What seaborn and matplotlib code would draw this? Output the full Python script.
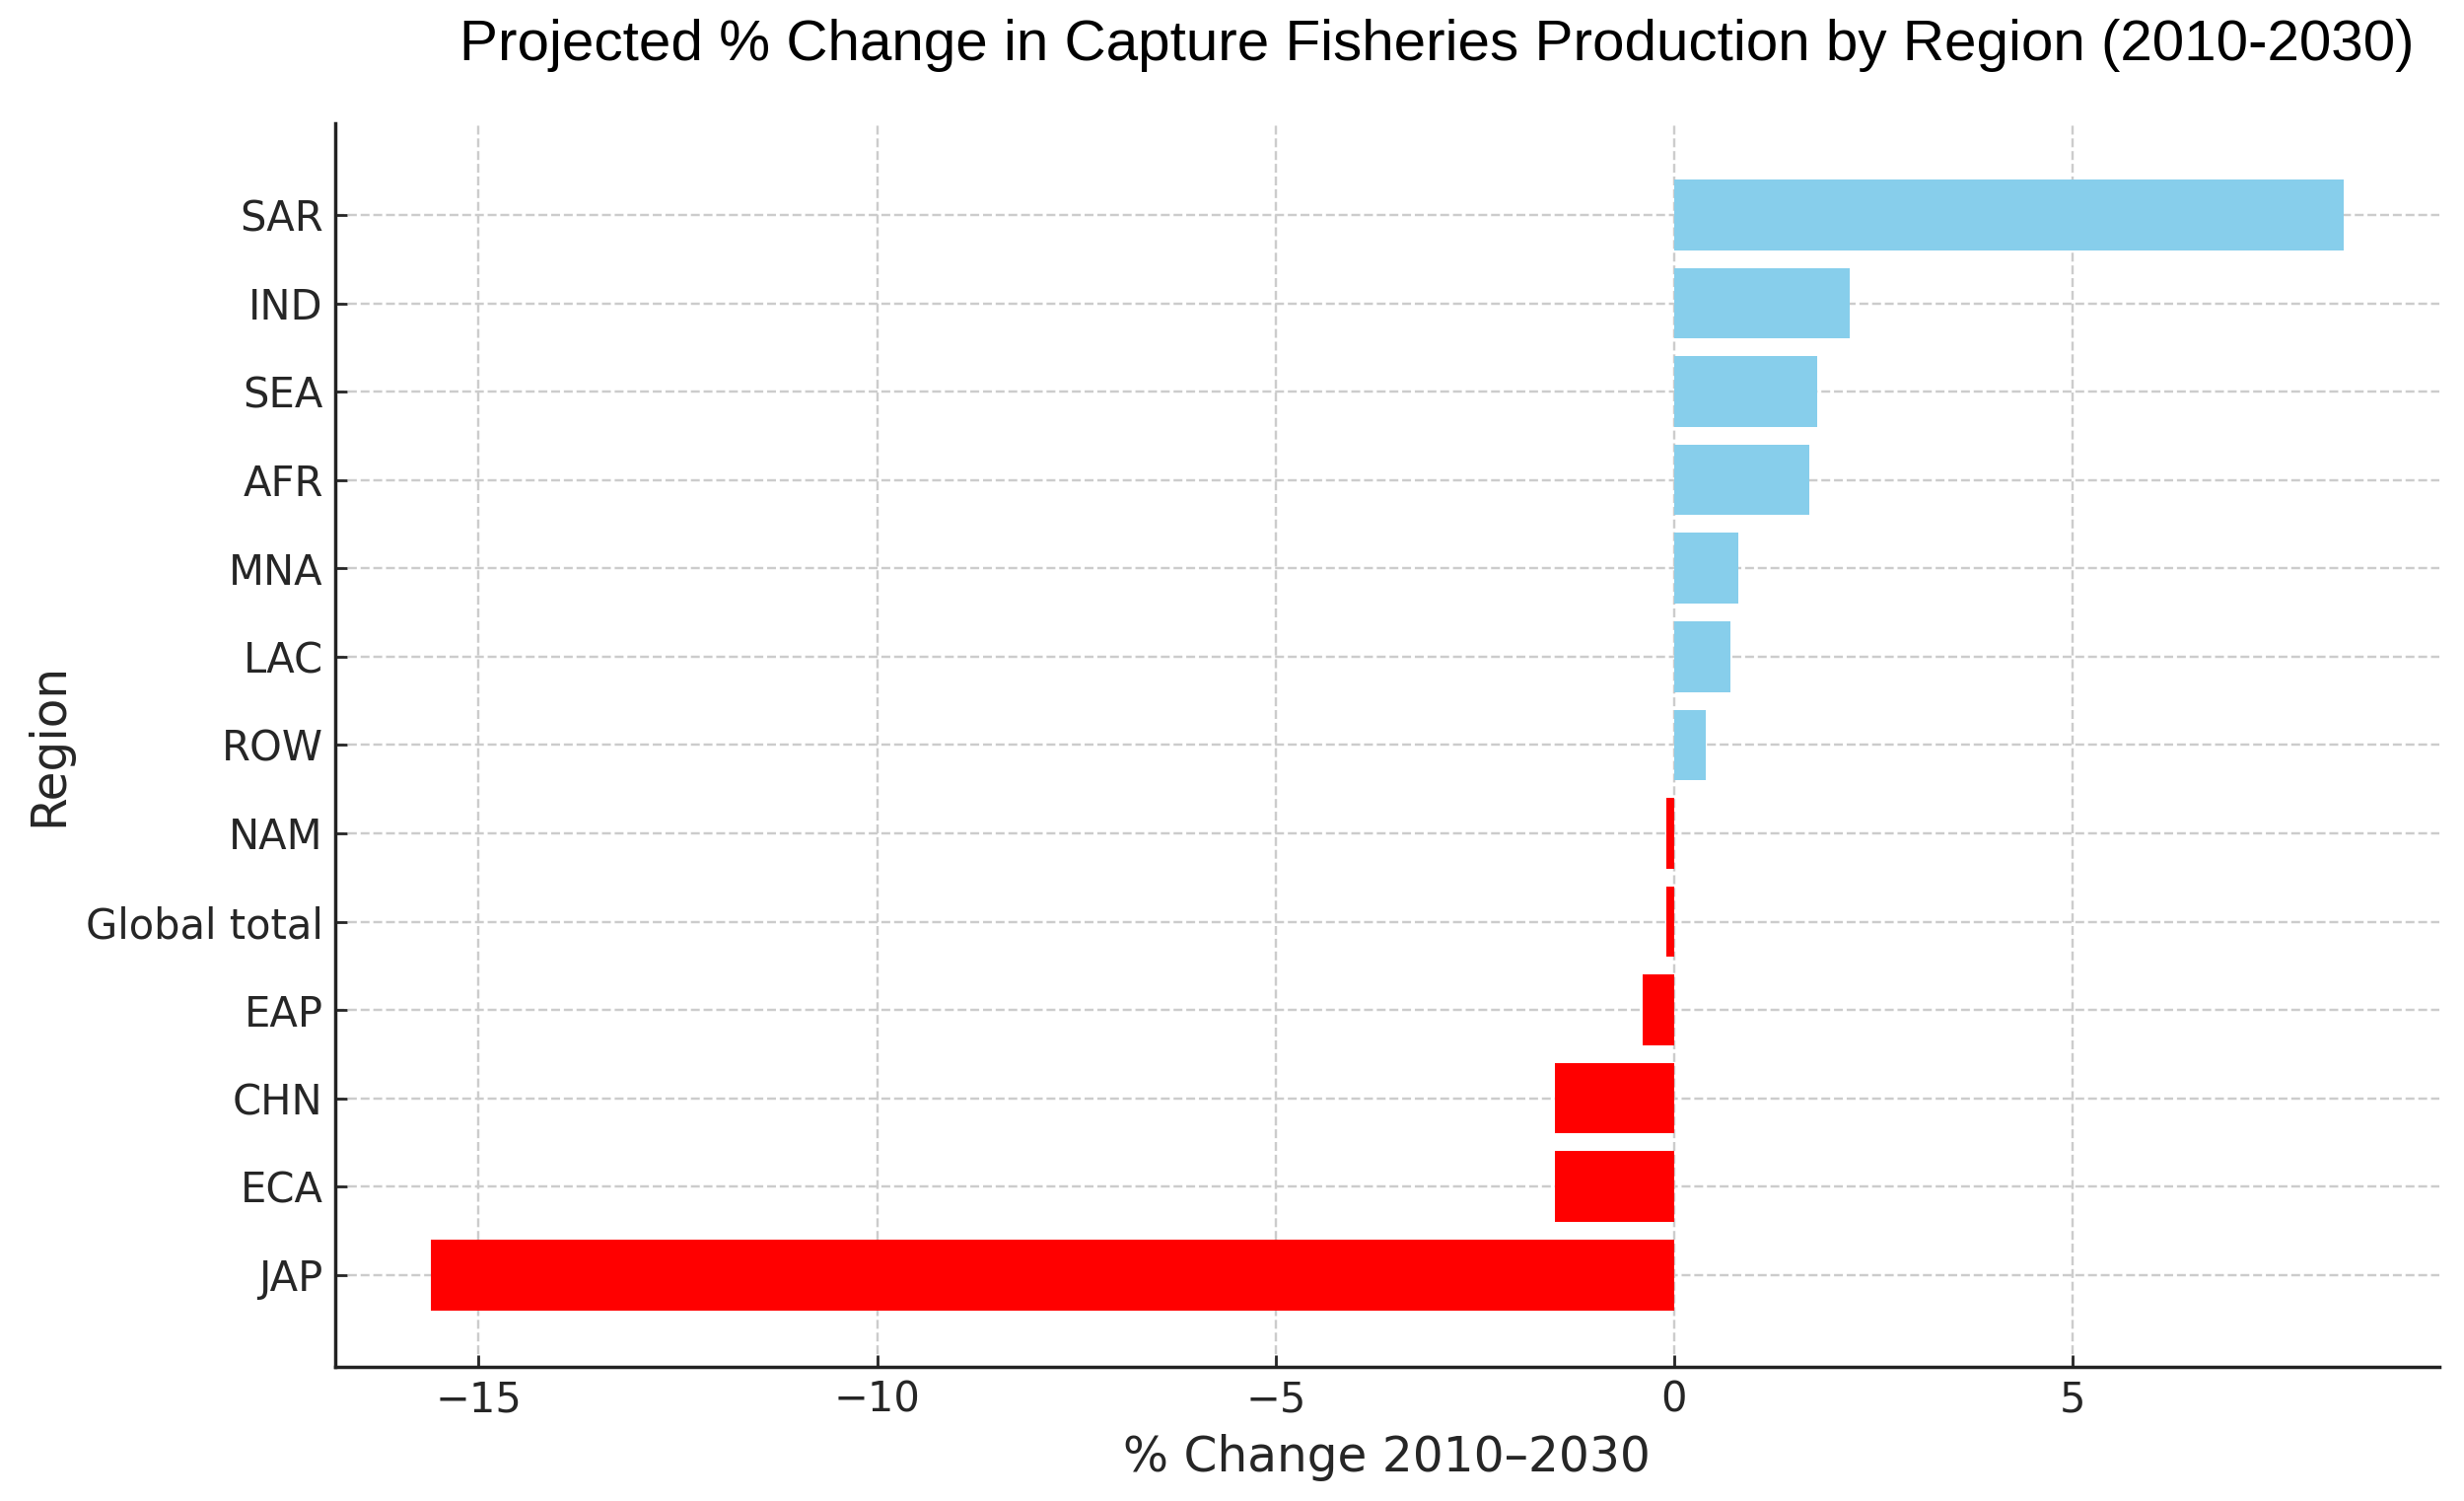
import matplotlib
matplotlib.use("Agg")
import matplotlib.pyplot as plt
import seaborn as sns
import pandas as pd

regions = ["SAR", "IND", "SEA", "AFR", "MNA", "LAC", "ROW", "NAM",
           "Global total", "EAP", "CHN", "ECA", "JAP"]
pct_change = [8.4, 2.2, 1.8, 1.7, 0.8, 0.7, 0.4, -0.1, -0.1, -0.4, -1.5, -1.5, -15.6]
xticks = [-15, -10, -5, 0, 5]
title = "Projected % Change in Capture Fisheries Production by Region (2010-2030)"
xlabel = "% Change 2010\u20132030"
ylabel = "Region"

sns.set_style("ticks")
plt.rcParams["font.family"] = ["DejaVu Sans"]

df = pd.DataFrame({"Region": regions, "Change": pct_change})
df["Sign"] = ["pos" if v >= 0 else "neg" for v in df["Change"]]

fig = plt.figure(figsize=(2499 / 250, 1522 / 250), dpi=250)
ax = fig.add_axes([0.136, 0.0894, 0.854, 0.8286])

sns.barplot(data=df, x="Change", y="Region", hue="Sign", order=regions,
            palette={"pos": "skyblue", "neg": "red"}, dodge=False,
            saturation=1, legend=False, linewidth=0, width=0.8, ax=ax,
            orient="h")

lo, hi = min(pct_change), max(pct_change)
rng = hi - lo
ax.set_xlim(lo - 0.05 * rng, hi + 0.05 * rng)
ax.set_ylim(len(regions) - 1 + 1.04, -1.04)
ax.set_xticks(xticks)
ax.set_xticklabels([("\u2212" + str(abs(t))) if t < 0 else str(t) for t in xticks])

ax.grid(True, axis="both", linestyle="--", color="#cccccc", linewidth=0.7)
ax.set_axisbelow(True)
for s in ["top", "right"]:
    ax.spines[s].set_visible(False)
for s in ["left", "bottom"]:
    ax.spines[s].set_color("#222222")
    ax.spines[s].set_linewidth(1.0)

ax.tick_params(axis="both", labelsize=12, colors="#262626", direction="in",
               length=3.5, width=0.8, pad=3.5)
ax.set_xlabel(xlabel, fontsize=14, color="#262626")
ax.set_ylabel(ylabel, fontsize=14, color="#262626")

fig.text(0.583, 0.970, title, ha="center", va="center", fontsize=16.8,
         color="black", family=["Liberation Sans", "DejaVu Sans"])

fig.savefig("out.png", dpi=250)
